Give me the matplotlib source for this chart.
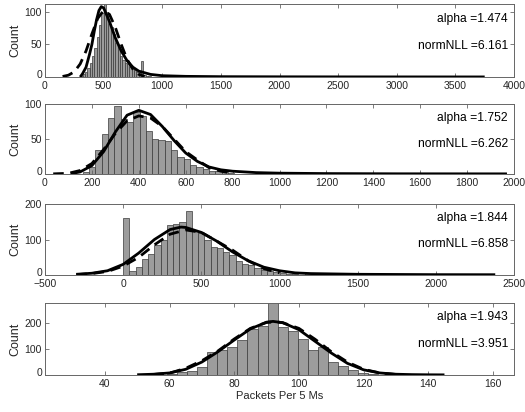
import numpy as np
import matplotlib
matplotlib.use("Agg")
import matplotlib.pyplot as plt
import matplotlib.transforms as mtransforms

plt.rcParams['font.family'] = ['Liberation Sans', 'DejaVu Sans']

# ---------------- data ----------------
# Panel 1
p1_bin_start, p1_bin_width = 300, 20
p1_counts = [2, 4, 8, 14, 22, 32, 45, 62, 80, 98, 118, 100, 82, 76, 66, 52, 46, 32,
             26, 22, 20, 15, 12, 10, 8, 6, 25, 3, 2, 1]
p1_stable_x = [300, 320, 350, 380, 400, 420, 440, 460, 480, 500, 550, 600, 650, 700,
               750, 800, 900, 1000, 1200, 1500, 2000, 2500, 3000, 3750]
p1_stable_y = [0, 5, 15, 35, 50, 70, 88, 102, 108, 106, 85, 60, 40, 25, 15, 9, 4, 2,
               1, 0.5, 0.3, 0.2, 0.15, 0.1]
p1_norm_x = [150, 200, 250, 300, 350, 400, 450, 500, 550, 600, 650, 700, 750, 800, 850]
p1_norm_y = [0.8, 2.8, 8, 20, 40, 66, 90, 102, 96, 76, 50, 27, 12, 4, 1]

# Panel 2
p2_bin_start, p2_bin_width = 160, 27
p2_counts = [3, 10, 35, 57, 80, 97, 78, 75, 88, 83, 62, 50, 48, 47, 35, 25, 22, 13,
             10, 7, 5, 4, 3, 2]
p2_stable_x = [110, 150, 200, 250, 300, 350, 400, 450, 500, 550, 600, 650, 700, 750,
               800, 900, 1000, 1200, 1500, 1970]
p2_stable_y = [0.5, 3, 12, 32, 60, 84, 91, 85, 68, 48, 30, 18, 10, 6, 4, 2, 1.2, 0.6,
               0.3, 0.2]
p2_norm_x = [35, 100, 150, 200, 250, 300, 350, 400, 450, 500, 550, 600, 650, 700, 750, 800]
p2_norm_y = [0.2, 1, 5, 15, 35, 58, 76, 83, 80, 68, 50, 32, 20, 9, 4, 1]

# Panel 3
p3_bin_start, p3_bin_width = 0, 40
p3_counts = [160, 12, 22, 45, 58, 85, 100, 140, 143, 150, 180, 125, 118, 100, 80, 75,
             65, 55, 40, 30, 28, 20, 15, 12, 8, 5, 3, 2, 1, 6]
p3_stable_x = [-300, -200, -100, 0, 100, 200, 300, 370, 400, 500, 600, 700, 800, 900,
               1000, 1100, 1200, 1500, 2000, 2380]
p3_stable_y = [2, 5, 12, 30, 62, 100, 128, 135, 134, 120, 95, 65, 40, 22, 12, 6, 4, 2,
               1, 0.8]
p3_norm_x = [-300, -200, -100, 0, 100, 200, 300, 400, 500, 600, 700, 800, 900, 1000]
p3_norm_y = [1, 4, 10, 25, 50, 85, 115, 127, 120, 95, 70, 40, 18, 6]

# Panel 4
p4_bin_start, p4_bin_width = 59.3, 3.1
p4_counts = [3, 10, 15, 30, 88, 95, 110, 137, 178, 190, 285, 185, 168, 140, 97, 108,
             52, 35, 20, 8, 3]
p4_stable_x = [50, 55, 60, 65, 70, 75, 80, 85, 90, 92, 95, 100, 105, 110, 115, 120,
               125, 130, 135, 140, 145]
p4_stable_y = [1, 3, 8, 22, 50, 90, 135, 178, 204, 207, 202, 175, 130, 85, 45, 20, 8,
               3, 1.5, 0.8, 0.5]
p4_norm_x = [55, 60, 65, 70, 75, 80, 85, 90, 93, 95, 100, 105, 110, 115, 120, 125, 130]
p4_norm_y = [2, 7, 26, 55, 93, 139, 180, 203, 205, 202, 180, 138, 90, 50, 22, 8, 2]

alphas = ["1.474", "1.752", "1.844", "1.943"]
nlls = ["6.161", "6.262", "6.858", "3.951"]

panels = [
    (p1_bin_start, p1_bin_width, p1_counts, p1_stable_x, p1_stable_y, p1_norm_x, p1_norm_y),
    (p2_bin_start, p2_bin_width, p2_counts, p2_stable_x, p2_stable_y, p2_norm_x, p2_norm_y),
    (p3_bin_start, p3_bin_width, p3_counts, p3_stable_x, p3_stable_y, p3_norm_x, p3_norm_y),
    (p4_bin_start, p4_bin_width, p4_counts, p4_stable_x, p4_stable_y, p4_norm_x, p4_norm_y),
]

xlims = [(0, 4000), (0, 2000), (-500, 2500), (21.5, 166.5)]
xticks = [np.arange(0, 4001, 500), np.arange(0, 2001, 200),
          np.arange(-500, 2501, 500), np.arange(40, 161, 20)]
ylims = [(0, 112), (0, 100), (0, 200), (0, 278)]
yticks = [[0, 50, 100], [0, 50, 100], [0, 100, 200], [0, 100, 200]]

# pixel layout (top, bottom)
W, H = 525, 412
rows = [(4, 77), (104, 174), (204, 275), (303, 375)]
left_px, right_px = 45, 514

fig = plt.figure(figsize=(W / 100, H / 100), dpi=100)
axcol = '#666666'
txtcol = '#262626'

for i, (bs, bw, counts, sx, sy, nx, ny) in enumerate(panels):
    top, bot = rows[i]
    ax = fig.add_axes([left_px / W, 1 - bot / H, (right_px - left_px) / W, (bot - top) / H])
    lefts = bs + bw * np.arange(len(counts))
    ax.bar(lefts, counts, width=bw, align='edge', color='#9c9c9c',
           edgecolor='#3a3a3a', linewidth=0.5, zorder=1)
    ax.plot(sx, sy, color='black', lw=2.0, solid_capstyle='butt', zorder=3)
    ax.plot(nx, ny, color='black', lw=2.0, ls=(0, (3.8, 2.4)), zorder=4)
    ax.set_xlim(*xlims[i])
    ax.set_ylim(*ylims[i])
    ax.set_xticks(xticks[i])
    ax.set_yticks(yticks[i])
    ax.tick_params(direction='in', length=3, width=0.6, colors=axcol,
                   labelcolor=txtcol, labelsize=7.5, top=True, right=True, pad=1.5)
    ax.tick_params(axis='x', pad=3.2)
    ax.tick_params(axis='y', pad=2.2)
    for s in ax.spines.values():
        s.set_color(axcol)
        s.set_linewidth(0.7)
    ax.set_ylabel('Count', fontsize=9, color=txtcol, labelpad=2)
    ax.text(0.987, 0.80, 'alpha =' + alphas[i], transform=ax.transAxes,
            ha='right', va='center', fontsize=8.7, color='black')
    ax.text(0.987, 0.43, 'normNLL =' + nlls[i], transform=ax.transAxes,
            ha='right', va='center', fontsize=8.7, color='black')
    if i == 3:
        ax.set_xlabel('Packets Per 5 Ms', fontsize=8, color=txtcol, labelpad=1.0)
    # nudge the bottom y tick label slightly up so it does not touch the x labels
    fig.canvas.draw()
    lab0 = ax.get_yticklabels()[0]
    lab0.set_transform(lab0.get_transform() +
                       mtransforms.ScaledTranslation(0, 2.5 / 72, fig.dpi_scale_trans))

fig.savefig('out.png', dpi=100)
